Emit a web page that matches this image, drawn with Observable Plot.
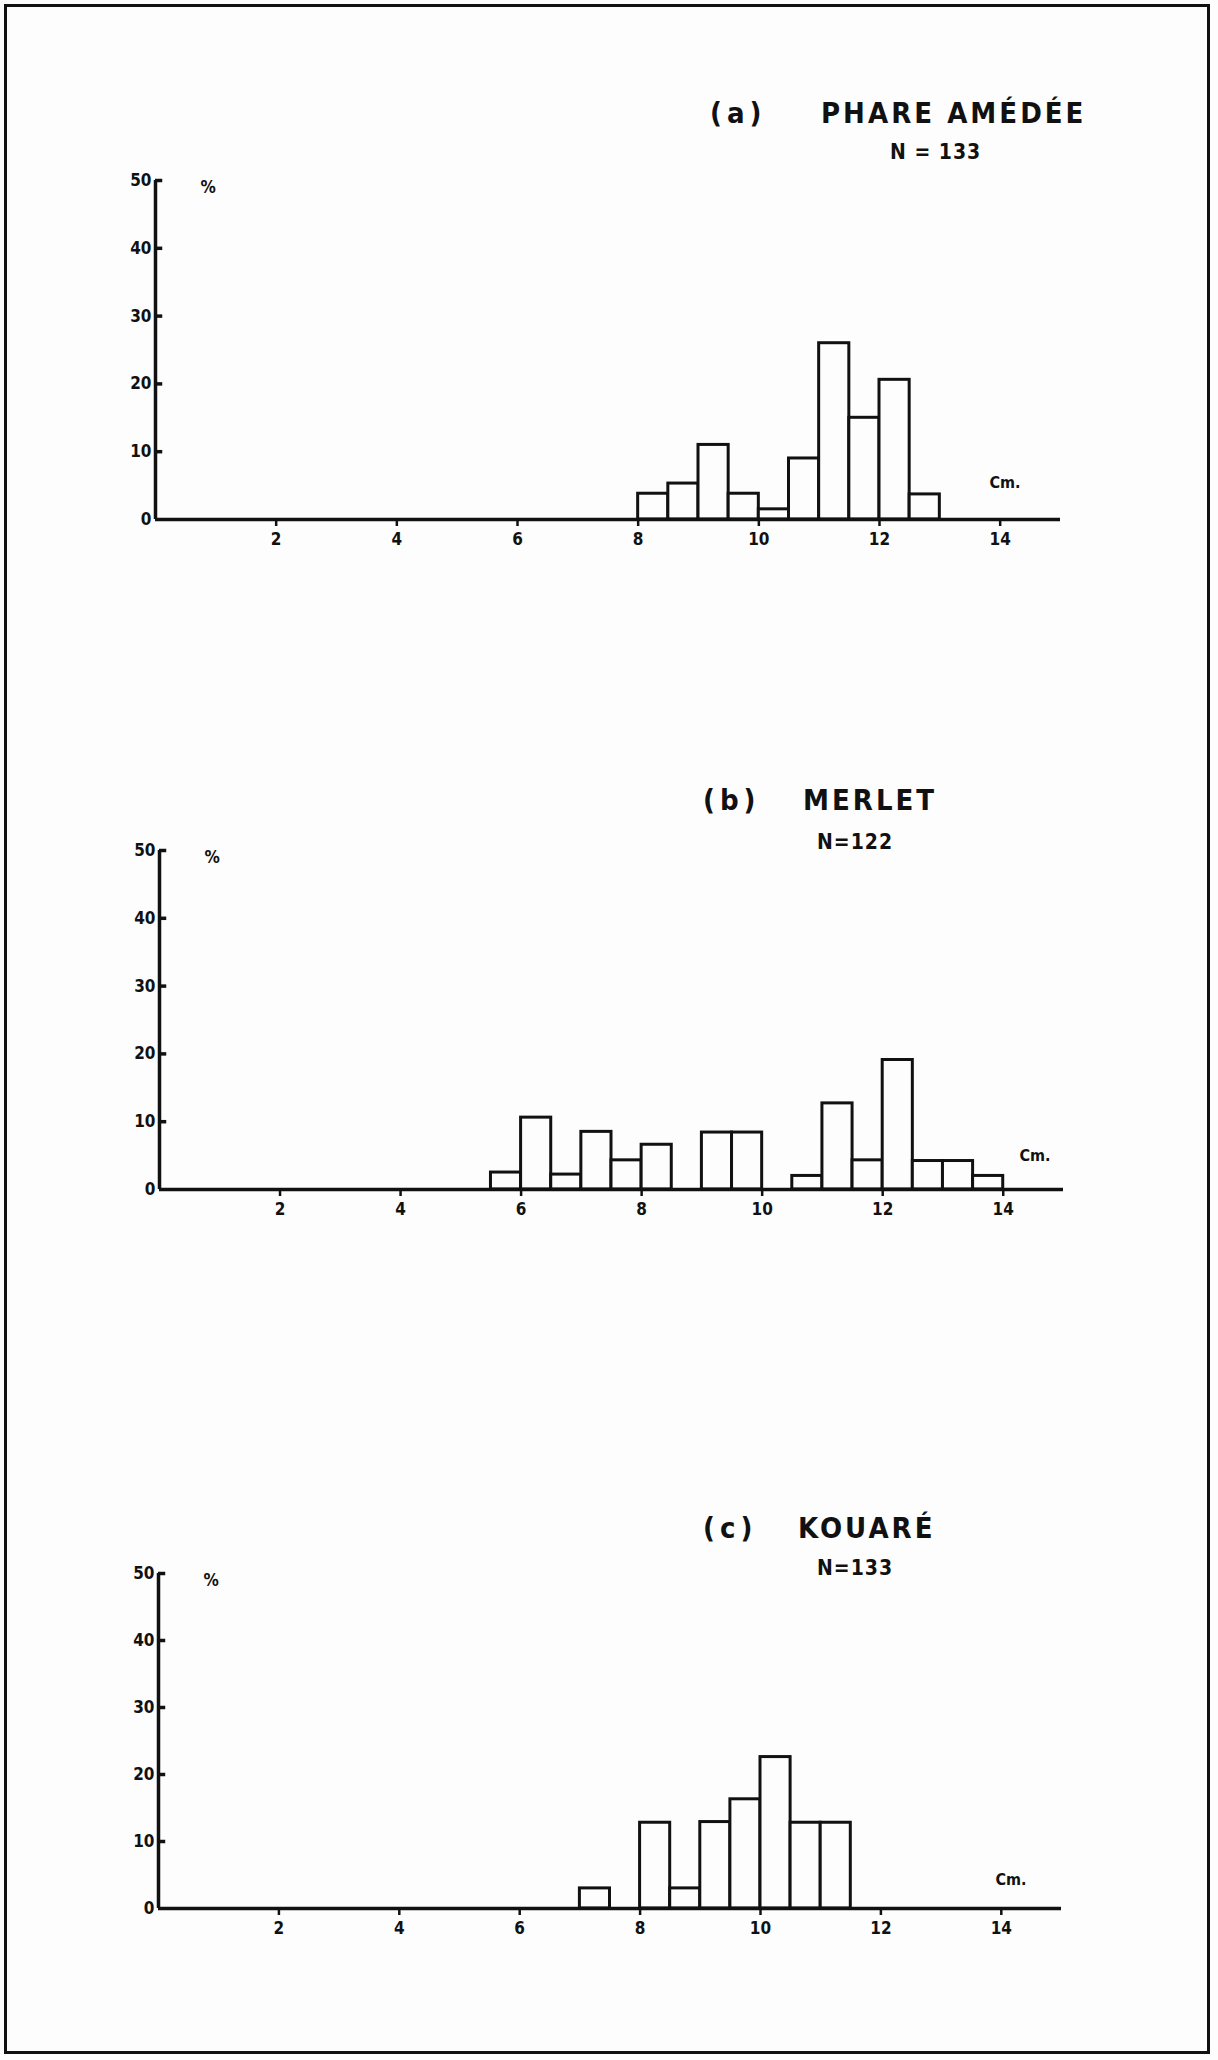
<!DOCTYPE html>
<html>
<head>
<meta charset="utf-8">
<script src="https://cdn.jsdelivr.net/npm/d3@7"></script>
<script src="https://cdn.jsdelivr.net/npm/@observablehq/plot@0.6"></script>
<style>
  html, body { margin: 0; padding: 0; background: #fff; }
  #page { position: relative; width: 1218px; height: 2060px; background: #fdfdfd; overflow: hidden; }
  #frame { position: absolute; left: 4px; top: 4px; width: 1206px; height: 2050px; border: 3px solid #111; box-sizing: border-box; }
  .panel { position: absolute; left: 0; }
  .txt { position: absolute; white-space: pre; color: #111; font-family: "DejaVu Sans Condensed", "DejaVu Sans", sans-serif; line-height: 1; font-weight: bold; }
  .tag { font-size: 29px; letter-spacing: 5px; }
  .site { font-size: 29px; letter-spacing: 3px; }
  .n { font-size: 21px; letter-spacing: 1px; }
</style>
</head>
<body>
<div id="page"><div id="frame"></div></div>
<script>
// Length-frequency distributions (percent per 0.5 cm class), three sites
const binWidth = 0.5;

const phareLower = [8, 8.5, 9, 9.5, 10, 10.5, 11, 11.5, 12, 12.5];
const pharePct   = [3.8, 5.3, 11.0, 3.8, 1.5, 9.0, 26.0, 15.0, 20.6, 3.7];

const merletLower = [5.5, 6, 6.5, 7, 7.5, 8, 9, 9.5, 10.5, 11, 11.5, 12, 12.5, 13, 13.5];
const merletPct   = [2.5, 10.6, 2.2, 8.5, 4.3, 6.6, 8.4, 8.4, 2.0, 12.7, 4.3, 19.1, 4.2, 4.2, 2.0];

const kouareLower = [7, 8, 8.5, 9, 9.5, 10, 10.5, 11];
const kouarePct   = [3.0, 12.8, 3.0, 12.9, 16.3, 22.6, 12.8, 12.8];

const xTicks = [2, 4, 6, 8, 10, 12, 14];
const yTicks = [0, 10, 20, 30, 40, 50];

const panelTags   = ["(a)", "(b)", "(c)"];
const siteNames   = ["PHARE AMÉDÉE", "MERLET", "KOUARÉ"];
const sampleSizes = ["N = 133", "N=122", "N=133"];

const page = document.getElementById("page");

function addText(cls, text, left, top) {
  const d = document.createElement("div");
  d.className = "txt " + cls;
  d.textContent = text;
  d.style.left = left + "px";
  d.style.top = top + "px";
  page.appendChild(d);
}

function histogram(lower, pct, layout) {
  const rows = lower.map((lo, i) => ({lo, hi: lo + binWidth, pct: pct[i]}));
  const marginTop = 20, marginBottom = 45;
  const svg = Plot.plot({
    width: 1218,
    height: marginTop + layout.plotHeight + marginBottom,
    marginTop,
    marginBottom,
    marginLeft: layout.marginLeft,
    marginRight: layout.marginRight,
    x: {domain: [0, 15]},
    y: {domain: [0, 50]},
    style: {fontFamily: "'DejaVu Sans Condensed', 'DejaVu Sans', sans-serif", fontWeight: "bold", fontSize: "17px", color: "#111", background: "transparent"},
    marks: [
      Plot.rectY(rows, {x1: "lo", x2: "hi", y1: 0, y2: "pct", fill: "#fdfdfd", stroke: "#111", strokeWidth: 3}),
      Plot.ruleY([0], {x1: 0, x2: 15, stroke: "#111", strokeWidth: 3.5}),
      Plot.ruleX([0], {y1: 0, y2: 50, stroke: "#111", strokeWidth: 3.5}),
      Plot.ruleY(yTicks.filter(v => v > 0), {x1: 0, x2: 0.12, stroke: "#111", strokeWidth: 3.5}),
      Plot.axisY({ticks: yTicks, tickSize: 0, tickPadding: 4, fontSize: 17, label: null}),
      Plot.axisX({ticks: xTicks, tickSize: 7, tickPadding: 6, fontSize: 17, strokeWidth: 2.5, label: null}),
      Plot.text(["%"], {frameAnchor: "top-left", dx: 45, dy: 0, fontSize: 17, text: d => d}),
      Plot.text(["Cm."], {frameAnchor: "bottom-right", dx: layout.cmDx, dy: layout.cmDy, fontSize: 16, text: d => d})
    ]
  });
  svg.classList.add("panel");
  svg.style.top = (layout.y50 - marginTop) + "px";
  svg.style.position = "absolute";
  page.appendChild(svg);
}

// (a) Phare Amédée
histogram(phareLower, pharePct, {y50: 180, plotHeight: 339, marginLeft: 155, marginRight: 158, cmDx: -40, cmDy: -32});
addText("tag", panelTags[0], 710, 99);
addText("site", siteNames[0], 821, 99);
addText("n", sampleSizes[0], 890, 142);

// (b) Merlet
histogram(merletLower, merletPct, {y50: 850, plotHeight: 339, marginLeft: 159, marginRight: 155, cmDx: -13, cmDy: -29});
addText("tag", panelTags[1], 703, 786);
addText("site", siteNames[1], 803, 786);
addText("n", sampleSizes[1], 817, 832);

// (c) Kouaré
histogram(kouareLower, kouarePct, {y50: 1573, plotHeight: 335, marginLeft: 158, marginRight: 157, cmDx: -35, cmDy: -24});
addText("tag", panelTags[2], 703, 1514);
addText("site", siteNames[2], 798, 1514);
addText("n", sampleSizes[2], 817, 1558);
</script>
</body>
</html>
